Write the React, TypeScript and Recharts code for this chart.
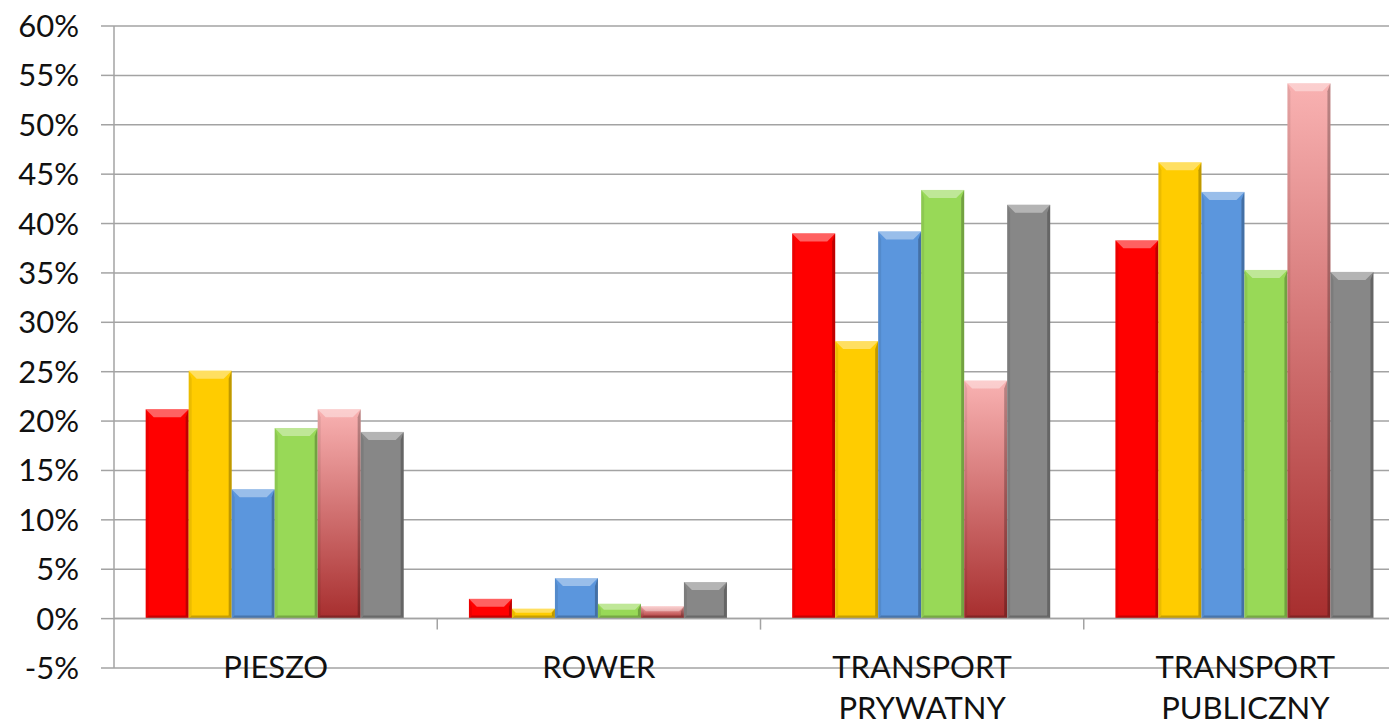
import { BarChart, Bar, XAxis, YAxis, CartesianGrid, ReferenceLine } from 'recharts';

const categories = ['PIESZO', 'ROWER', 'TRANSPORT PRYWATNY', 'TRANSPORT PUBLICZNY'];
const red = [21.2, 2.0, 39.0, 38.3];
const yellow = [25.1, 1.0, 28.1, 46.2];
const blue = [13.1, 4.1, 39.2, 43.2];
const green = [19.3, 1.5, 43.4, 35.3];
const pink = [21.2, 1.25, 24.1, 54.2];
const gray = [18.9, 3.7, 41.9, 35.1];
const yTicks = [-5, 0, 5, 10, 15, 20, 25, 30, 35, 40, 45, 50, 55, 60];

const W = 1407;
const H = 726;
const LEFT = 114;
const TOP = 26;
const XAXIS_H = 58;
const PLOT_H = H - TOP - XAXIS_H;
const BAND = (W - LEFT) / categories.length;
const ZERO_Y = TOP + (PLOT_H * 60) / 65;

const FONT = 'Lato, "Open Sans", sans-serif';
const GRID = '#a3a3a3';

const data = categories.map((c, i) => ({
  cat: c,
  red: red[i],
  yellow: yellow[i],
  blue: blue[i],
  green: green[i],
  pink: pink[i],
  gray: gray[i],
}));

// bar with a bevelled 3D look, close to the Office "bevel" preset
function BevelBar(props: any) {
  const { x, y, width: w, height: h, fill } = props;
  if (!w || !h || h <= 0) return null;
  const b = Math.min(8, h / 2.5);
  const s = Math.min(3, w / 6);
  return (
    <g>
      <rect x={x} y={y} width={w} height={h} fill={fill} />
      <polygon
        points={`${x},${y} ${x + w},${y} ${x + w - b},${y + b} ${x + b},${y + b}`}
        fill="#fff"
        fillOpacity={0.38}
      />
      <polygon
        points={`${x},${y} ${x + s},${y + b} ${x + s},${y + h - s} ${x},${y + h}`}
        fill="#000"
        fillOpacity={0.08}
      />
      <polygon
        points={`${x + w},${y} ${x + w - s},${y + b} ${x + w - s},${y + h - s} ${x + w},${y + h}`}
        fill="#000"
        fillOpacity={0.25}
      />
      <polygon
        points={`${x},${y + h} ${x + s},${y + h - s} ${x + w - s},${y + h - s} ${x + w},${y + h}`}
        fill="#000"
        fillOpacity={0.22}
      />
    </g>
  );
}

function CatTick(props: any) {
  const { x, y, payload, index } = props;
  const lines = String(payload.value).split(' ');
  return (
    <g>
      {index < categories.length - 1 && (
        <line x1={x + BAND / 2} x2={x + BAND / 2} y1={ZERO_Y} y2={ZERO_Y + 11} stroke={GRID} strokeWidth={1.5} />
      )}
      <text x={x} y={y} textAnchor="middle" fontSize={31} fontFamily={FONT} fill="#111">
        {lines.map((l, i) => (
          <tspan key={i} x={x} dy={i === 0 ? 10 : 41}>
            {l}
          </tspan>
        ))}
      </text>
    </g>
  );
}

export default function App() {
  const series = [
    { key: 'red', fill: '#ff0000' },
    { key: 'yellow', fill: '#ffcc00' },
    { key: 'blue', fill: '#5b96dd' },
    { key: 'green', fill: '#98d957' },
    { key: 'pink', fill: 'url(#pinkGrad)' },
    { key: 'gray', fill: '#878787' },
  ];
  return (
    <div style={{ position: 'absolute', left: 0, top: 0, width: 1389, height: 726, overflow: 'hidden', background: '#fff' }}>
      <BarChart
        width={W}
        height={H}
        data={data}
        margin={{ top: TOP, right: 0, left: 0, bottom: 0 }}
        barCategoryGap="9.8%"
        barGap={0}
      >
        <defs>
          <linearGradient id="pinkGrad" x1="0" y1="0" x2="0" y2="1">
            <stop offset="0%" stopColor="#f9b2b2" />
            <stop offset="100%" stopColor="#a72e2e" />
          </linearGradient>
        </defs>
        <CartesianGrid vertical={false} stroke={GRID} strokeWidth={1.5} />
        <XAxis
          dataKey="cat"
          height={XAXIS_H}
          axisLine={false}
          tickLine={false}
          tickSize={0}
          tickMargin={0}
          interval={0}
          tick={<CatTick />}
        />
        <YAxis
          width={LEFT}
          domain={[-5, 60]}
          ticks={yTicks}
          interval={0}
          tickFormatter={(v: number) => `${v}%`}
          tick={{ fontSize: 31, fontFamily: FONT, fill: '#111' }}
          tickSize={13}
          tickMargin={22}
          axisLine={{ stroke: GRID, strokeWidth: 1.5 }}
          tickLine={{ stroke: GRID, strokeWidth: 1.5 }}
        />
        <ReferenceLine y={0} stroke={GRID} strokeWidth={1.5} />
        {series.map((s) => (
          <Bar key={s.key} dataKey={s.key} fill={s.fill} shape={<BevelBar />} isAnimationActive={false} />
        ))}
      </BarChart>
    </div>
  );
}
